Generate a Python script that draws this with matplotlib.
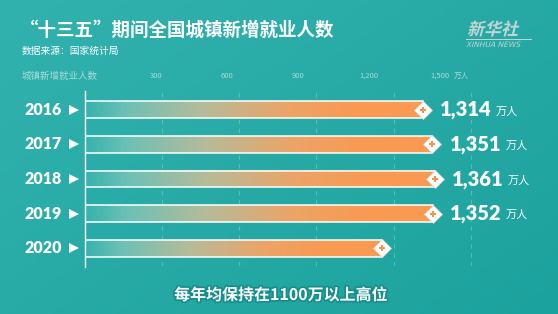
import numpy as np
import matplotlib
matplotlib.use('Agg')
import matplotlib.pyplot as plt
import matplotlib.transforms as mtransforms
import matplotlib.patheffects as pe
from matplotlib.colors import LinearSegmentedColormap
from matplotlib.textpath import TextPath
from matplotlib.patches import PathPatch
from matplotlib.font_manager import FontProperties

plt.rcParams['font.family'] = ['Noto Sans CJK SC', 'DejaVu Sans']

years = ['2016', '2017', '2018', '2019', '2020']
values = [1314, 1351, 1361, 1352, 1155]
value_labels = ['1,314', '1,351', '1,361', '1,352', '']
ticks = [300, 600, 900, 1200, 1500]
tick_labels = ['300', '600', '900', '1,200', '1,500']

W, H = 558, 314
fig = plt.figure(figsize=(W / 100, H / 100), dpi=100)

# background gradient, pixel coordinates (y up)
bg = fig.add_axes([0, 0, 1, 1], zorder=0)
yy, xx = np.mgrid[0:1:100j, 0:1:160j]
t = 0.55 * xx + 0.45 * yy
c0 = np.array([50, 178, 174]) / 255
c1 = np.array([28, 162, 158]) / 255
img = c0[None, None, :] * (1 - t[..., None]) + c1[None, None, :] * t[..., None]
bg.imshow(img, extent=[0, W, 0, H], aspect='auto', origin='upper')
bg.set_xlim(0, W)
bg.set_ylim(0, H)
bg.axis('off')

# main axes, pixel geometry
left, right, top, bottom = 85, 558, 92, 266
ax = fig.add_axes([left / W, 1 - bottom / H, (right - left) / W, (bottom - top) / H], zorder=1)
ax.set_facecolor('none')
px_per_unit = 0.2572
xmax = (right - left) / px_per_unit

cmap = LinearSegmentedColormap.from_list('bar', [
    (0.0, '#36b2ac'), (0.12, '#6cc1b6'), (0.35, '#b6bb99'),
    (0.6, '#eca467'), (0.8, '#f99a52'), (1.0, '#fb9a53')])
grad = np.linspace(0, 1, 256)[None, :]
bh = 0.49

for x in ticks:
    ax.axvline(x, color='#7fd0cb', lw=0.8, ls=(0, (4, 4)), alpha=0.55, zorder=1)

renderer = fig.canvas.get_renderer()
for i, v in enumerate(values):
    ax.imshow(grad, extent=[0, v, i + bh / 2, i - bh / 2], cmap=cmap,
              aspect='auto', zorder=2, interpolation='bilinear')
    ax.plot([0, v, v, 0], [i - bh / 2, i - bh / 2, i + bh / 2, i + bh / 2],
            color='white', lw=1.1, zorder=3, solid_joinstyle='miter')
    ax.plot(v, i, marker='D', ms=9, color='white', mec='#d9d9d9', mew=0.5, zorder=4)
    ax.plot(v, i, marker='P', ms=4, color='#f7924a', mew=0, zorder=5)

ax.set_xlim(0, xmax)
ax.set_ylim(4.52, -0.52)
ax.set_aspect('auto')
ax.axis('off')

for i, v in enumerate(values):
    if value_labels[i]:
        t1 = ax.annotate(value_labels[i], (v, i), xytext=(12.5, 0), textcoords='offset points',
                         ha='left', va='center', fontsize=14.5, fontweight='heavy',
                         color='white', family=['Lato', 'DejaVu Sans'], zorder=5)
        bb = t1.get_window_extent(renderer)
        ax.annotate('万人', (bb.x1 + 4, bb.y0 + 0.5 * bb.height - 1.5), xycoords='figure pixels',
                    ha='left', va='center', fontsize=8, color='white', zorder=5)

# axis line
ax.plot([0, 0], [-0.55, 4.55], color='white', lw=1.0, clip_on=False, zorder=6)

# year labels and arrows
trans_y = mtransforms.blended_transform_factory(fig.transFigure, ax.transData)
for i, y in enumerate(years):
    fig.text(62 / W, i, y, transform=trans_y, ha='right', va='center', fontsize=11.5,
             fontweight='heavy', color='white', family=['Lato', 'DejaVu Sans'])
    ax.plot([73.5 / W], [i], marker='>', ms=7, color='white', mew=0,
            transform=trans_y, clip_on=False)

# tick labels
trans_x = mtransforms.blended_transform_factory(ax.transData, fig.transFigure)
for x, lab in zip(ticks, tick_labels):
    fig.text(x * 0.92, 1 - 76 / H, lab, transform=trans_x, ha='center', va='center',
             fontsize=5.5, color='#a9dcd8')
fig.text(ticks[-1] * 0.92 + 52, 1 - 76 / H, '万人', transform=trans_x, ha='left',
         va='center', fontsize=5.5, color='#a9dcd8')
fig.text(22 / W, 1 - 76 / H, '城镇新增就业人数', ha='left', va='center', fontsize=6.8,
         color='#a9dcd8')

# titles
fig.text(20 / W, 1 - 30 / H, '“十三五”期间全国城镇新增就业人数', ha='left', va='center',
         fontsize=13.3, fontweight='bold', color='white')
fig.text(22 / W, 1 - 51 / H, '数据来源：国家统计局', ha='left', va='center',
         fontsize=7, color='white')

# logo (slanted)
logo_col = '#c3d5d4'
tp = TextPath((0, 0), '新华社', size=17,
              prop=FontProperties(family='Noto Sans CJK SC', weight='bold'))
bg.add_patch(PathPatch(tp, transform=mtransforms.Affine2D().skew_deg(14, 0).translate(467, H - 35)
                       + bg.transData, color=logo_col, lw=0))
tp2 = TextPath((0, 0), 'XINHUA NEWS', size=7.5, prop=FontProperties(family='DejaVu Sans'))
bg.add_patch(PathPatch(tp2, transform=mtransforms.Affine2D().skew_deg(14, 0).translate(466, H - 47)
                       + bg.transData, color=logo_col, lw=0))
bg.plot([466, 531], [H - 38.5, H - 38.5], color=logo_col, lw=0.7)

# caption
fig.text(281 / W, 1 - 295 / H, '每年均保持在1100万以上高位', ha='center', va='center',
         fontsize=11.5, fontweight='bold', color='white',
         path_effects=[pe.withStroke(linewidth=2.5, foreground='#168e8a')])

fig.savefig('out.png', dpi=100)
